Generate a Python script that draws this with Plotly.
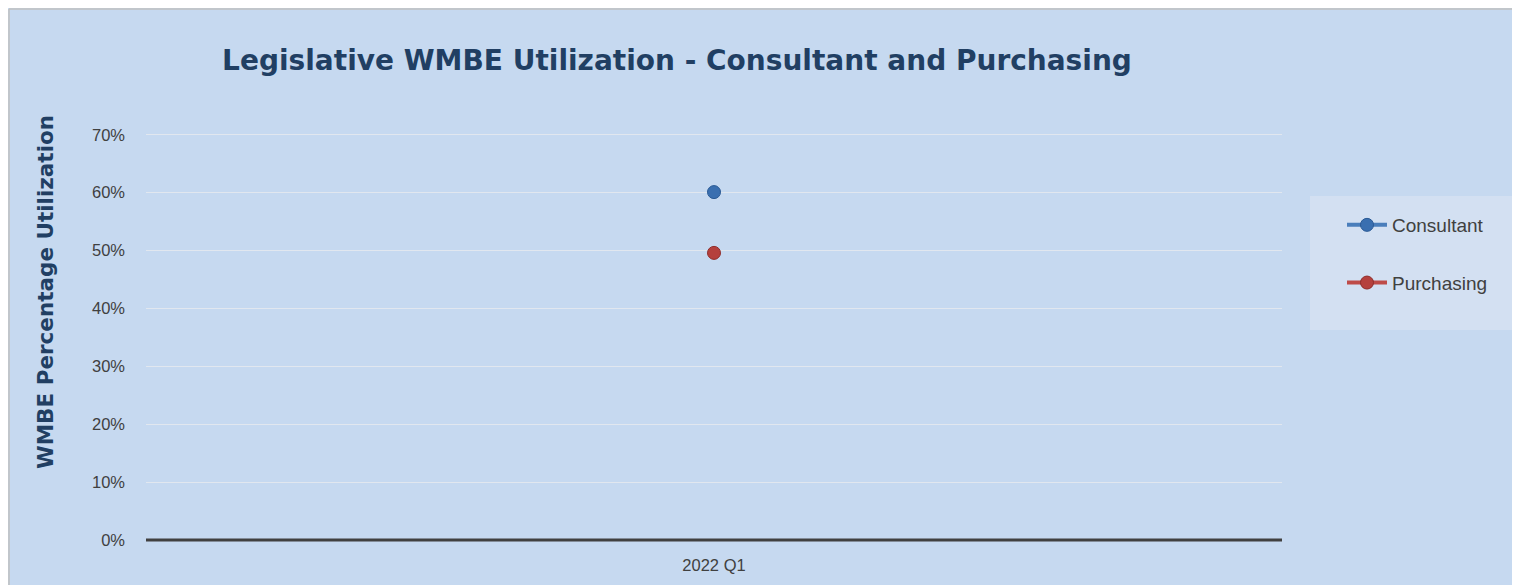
import plotly.graph_objects as go

categories = ["2022 Q1"]
consultant = [0.601]
purchasing = [0.496]
series_names = ["Consultant", "Purchasing"]
tick_vals = [0, 0.1, 0.2, 0.3, 0.4, 0.5, 0.6, 0.7]
tick_text = ["0%", "10%", "20%", "30%", "40%", "50%", "60%", "70%"]

W, H = 1520, 585
L, R, T, B = 138, 246, 121, 53

fig = go.Figure()
fig.add_trace(go.Scatter(
    x=categories, y=consultant, name=series_names[0], mode="lines+markers",
    line=dict(color="#4A7EBB", width=4),
    marker=dict(size=13, color="#3A6FB0", line=dict(color="#2A5A95", width=1)),
    legendgroup="a",
))
fig.add_trace(go.Scatter(
    x=categories, y=purchasing, name=series_names[1], mode="lines+markers",
    line=dict(color="#BE4B48", width=4),
    marker=dict(size=13, color="#B5403D", line=dict(color="#8F2E2C", width=1)),
    legendgroup="b",
))

pw = W - L - R
ph = H - T - B
def px_x(x):
    return (x - L) / pw
def px_y(y):
    return (H - B - y) / ph

shapes = [
    # chart border (top / left)
    dict(type="line", xref="paper", yref="paper", x0=px_x(1), x1=px_x(W), y0=px_y(1), y1=px_y(1),
         line=dict(color="#BFBFBF", width=1.5)),
    dict(type="line", xref="paper", yref="paper", x0=px_x(1), x1=px_x(1), y0=px_y(1), y1=px_y(H),
         line=dict(color="#BFBFBF", width=1.5)),
    # legend box
    dict(type="rect", xref="paper", yref="paper", x0=px_x(1302), x1=px_x(1509), y0=px_y(322), y1=px_y(188),
         fillcolor="#D3E0F2", line=dict(width=0), layer="below"),
    # zero baseline
    dict(type="line", xref="paper", yref="paper", x0=0, x1=1, y0=0, y1=0,
         line=dict(color="#404040", width=3)),
]

fig.update_layout(
    width=W, height=H,
    margin=dict(l=L, r=R, t=T, b=B),
    paper_bgcolor="#C6D9F0",
    plot_bgcolor="#C6D9F0",
    title=dict(
        text="<b>Legislative WMBE Utilization - Consultant and Purchasing</b>",
        x=669 / W, xanchor="center",
        y=1 - 52 / H, yanchor="middle",
        font=dict(family="DejaVu Sans", size=28, color="#213F63"),
    ),
    xaxis=dict(
        type="category", showgrid=False, zeroline=False, showline=False,
        ticks="", ticklabelstandoff=13,
        tickfont=dict(family="Liberation Sans", size=16.5, color="#404040"),
    ),
    yaxis=dict(
        range=[0, 0.71], tickvals=tick_vals, ticktext=tick_text,
        showgrid=True, gridcolor="#E1E7EF", gridwidth=1,
        zeroline=False, showline=False, ticks="", ticklabelstandoff=20,
        tickfont=dict(family="Liberation Sans", size=16.5, color="#404040"),
    ),
    legend=dict(
        x=px_x(1334), y=px_y(198), xanchor="left", yanchor="top",
        bgcolor="rgba(0,0,0,0)", borderwidth=0,
        font=dict(family="Liberation Sans", size=19, color="#404040"),
        tracegroupgap=30, itemwidth=40,
    ),
    shapes=shapes,
    showlegend=True,
    annotations=[dict(
        text="<b>WMBE Percentage Utilization</b>", textangle=-90,
        xref="paper", yref="paper", x=px_x(37), y=px_y(284),
        xanchor="center", yanchor="middle", showarrow=False,
        font=dict(family="DejaVu Sans", size=21.5, color="#213F63"),
    )],
)

fig.write_html("out.html")
